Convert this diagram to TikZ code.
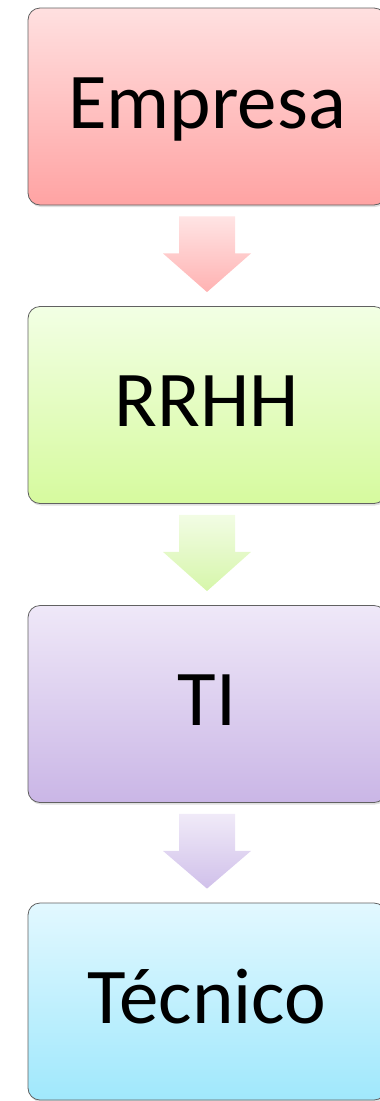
\documentclass[tikz,border=0pt]{standalone}
\usepackage{fontspec}
\setmainfont{Carlito}
\usetikzlibrary{calc,shadows}
\definecolor{rA}{RGB}{255,224,224}\definecolor{rB}{RGB}{255,163,163}
\definecolor{gA}{RGB}{242,255,228}\definecolor{gB}{RGB}{214,250,158}
\definecolor{pA}{RGB}{239,232,248}\definecolor{pB}{RGB}{202,182,230}
\definecolor{bA}{RGB}{226,248,255}\definecolor{bB}{RGB}{160,232,252}
\definecolor{arA}{RGB}{255,228,228}\definecolor{arB}{RGB}{255,178,178}
\definecolor{agA}{RGB}{242,252,228}\definecolor{agB}{RGB}{214,246,170}
\definecolor{apA}{RGB}{240,234,248}\definecolor{apB}{RGB}{208,192,234}
\tikzset{
  stagebox/.style={draw=black!62, line width=0.8pt, rounded corners=12pt,
    minimum width=358pt, minimum height=197pt, inner sep=0pt,
    font=\fontsize{79}{80}\selectfont, text height=51pt, text depth=8pt,
    drop shadow={shadow xshift=1pt, shadow yshift=-2pt, opacity=0.25}},
  flowarrow/.style={draw=none}
}
\begin{document}
\begin{tikzpicture}[x=1pt,y=-1pt]
\useasboundingbox (0,0) rectangle (380,1101);
\node[stagebox, top color=rA, bottom color=rB] (emp) at (207,106.5) {Empresa};
\node[stagebox, top color=gA, bottom color=gB] (rrhh) at (207,405) {RRHH};
\node[stagebox, top color=pA, bottom color=pB] (ti) at (207,704) {TI};
\node[stagebox, top color=bA, bottom color=bB] (tec) at (207,1001.5) {Técnico};
\foreach \a/\b/\ca/\cb in {emp/rrhh/arA/arB, rrhh/ti/agA/agB, ti/tec/apA/apB}{
  \path[flowarrow, top color=\ca, bottom color=\cb]
    ($(\a.south)+(-28,11)$) -- ++(56,0) -- ++(0,37) -- ++(16,0)
    -- ($(\b.north)+(0,-14)$) -- ($(\a.south)+(-44,48)$) -- ++(16,0) -- cycle;
}
\end{tikzpicture}
\end{document}
